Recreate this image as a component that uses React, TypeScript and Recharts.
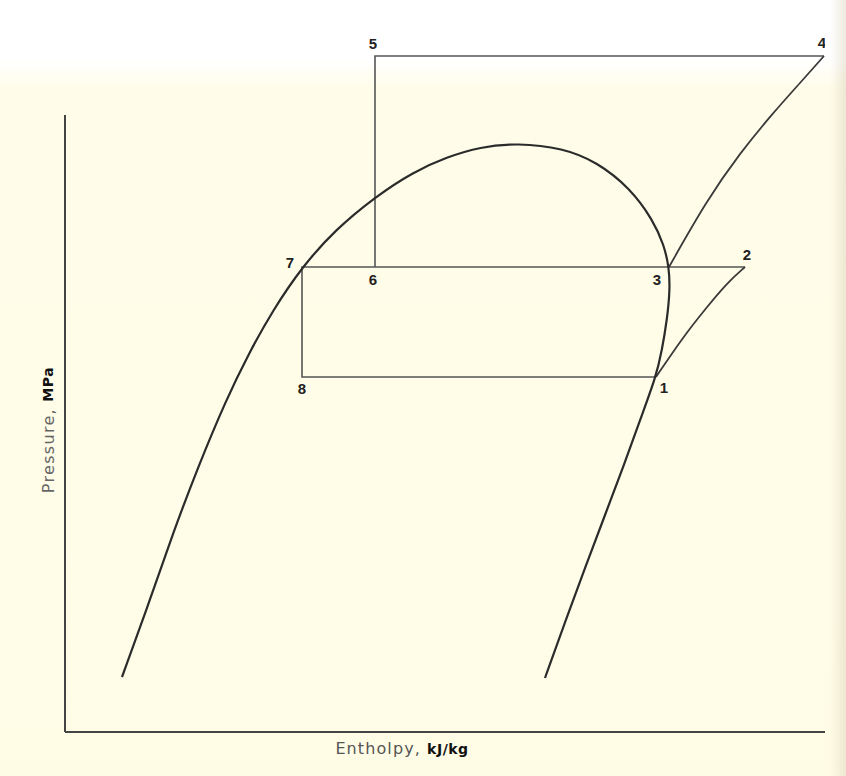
import {
  ComposedChart,
  Label,
  Line,
  ReferenceLine,
  Scatter,
  XAxis,
  YAxis,
} from "recharts";

// saturation dome, from the bottom of the liquid line over the top to the bottom of the vapour line
const dome = [
  { h: 28.5, p: 27.5 },
  { h: 42.5, p: 66 },
  { h: 54, p: 99.5 },
  { h: 66.5, p: 132.5 },
  { h: 80.5, p: 166 },
  { h: 92, p: 189.5 },
  { h: 104, p: 211 },
  { h: 118.5, p: 232.5 },
  { h: 135, p: 251 },
  { h: 155, p: 267.5 },
  { h: 174, p: 280 },
  { h: 191, p: 287.5 },
  { h: 207.5, p: 292.5 },
  { h: 226, p: 294.5 },
  { h: 249, p: 292 },
  { h: 266, p: 285 },
  { h: 282.5, p: 272 },
  { h: 294, p: 256 },
  { h: 299.5, p: 243.5 },
  { h: 302, p: 232.5 },
  { h: 302.5, p: 221 },
  { h: 301, p: 206 },
  { h: 298.5, p: 191 },
  { h: 295.5, p: 177.5 },
  { h: 287.5, p: 156 },
  { h: 279.5, p: 133.5 },
  { h: 270, p: 108.5 },
  { h: 260, p: 82 },
  { h: 250, p: 55 },
  { h: 240, p: 27 },
];

// compression 1 -> 2
const compressionLow = [
  { h: 295.5, p: 177.5 },
  { h: 309, p: 197.5 },
  { h: 321, p: 212.5 },
  { h: 331, p: 224.5 },
  { h: 340, p: 232.5 },
];

// compression 3 -> 4
const compressionHigh = [
  { h: 302, p: 232.5 },
  { h: 321, p: 266 },
  { h: 337.5, p: 289.5 },
  { h: 354, p: 309.5 },
  { h: 367.5, p: 324.5 },
  { h: 379.5, p: 338 },
];

// 4 -> 5 -> 6
const upperCycle = [
  { h: 379.5, p: 338 },
  { h: 155, p: 338 },
  { h: 155, p: 232.5 },
];

// 2 -> 7 -> 8 -> 1
const lowerCycle = [
  { h: 340, p: 232.5 },
  { h: 118.5, p: 232.5 },
  { h: 118.5, p: 177.5 },
  { h: 295.5, p: 177.5 },
];

const statePoints = [
  { name: "1", h: 295.5, p: 177.5 },
  { name: "2", h: 340, p: 232.5 },
  { name: "3", h: 302, p: 232.5 },
  { name: "4", h: 379.5, p: 338 },
  { name: "5", h: 155, p: 338 },
  { name: "6", h: 155, p: 232.5 },
  { name: "7", h: 118.5, p: 232.5 },
  { name: "8", h: 118.5, p: 177.5 },
];

const hDomain = [0, 380];
const pDomain = [0, 356];
const pAxisTop = 308.5;

const labelOffsets: Record<string, [number, number]> = {
  "1": [8, 10],
  "2": [2, -13],
  "3": [-12, 12],
  "4": [-2, -14],
  "5": [-2, -13],
  "6": [-2, 12],
  "7": [-12, -5],
  "8": [0, 11],
};

function StateLabel(props: any) {
  const { cx, cy, payload } = props;
  const [dx, dy] = labelOffsets[payload.name] ?? [0, 0];
  return (
    <text
      x={cx + dx}
      y={cy + dy}
      textAnchor="middle"
      dominantBaseline="central"
      fontFamily="'Liberation Sans', Arial, sans-serif"
      fontWeight="bold"
      fontSize={15}
      fill="#222"
    >
      {payload.name}
    </text>
  );
}

function XTitle(props: any) {
  const { x, y, width } = props.viewBox;
  return (
    <text
      x={x + width / 2 - 43}
      y={y + 22}
      textAnchor="middle"
      fontFamily="'DejaVu Sans', sans-serif"
      fontSize={16}
      letterSpacing={1.1}
    >
      <tspan fill="#555">Entholpy, </tspan>
      <tspan fill="#111" fontWeight="bold" fontSize={14} letterSpacing={0.5}>
        kJ/kg
      </tspan>
    </text>
  );
}

function YTitle(props: any) {
  const { x, y } = props.viewBox;
  const tx = x + 48;
  const ty = y + 410;
  return (
    <text
      x={tx}
      y={ty}
      textAnchor="middle"
      dominantBaseline="central"
      transform={`rotate(-90 ${tx} ${ty})`}
      fontFamily="'DejaVu Sans', sans-serif"
      fontSize={16}
      letterSpacing={1.3}
    >
      <tspan fill="#666">Pressure, </tspan>
      <tspan fill="#111" fontWeight="bold" fontSize={14} letterSpacing={0.5}>
        MPa
      </tspan>
    </text>
  );
}

export default function App() {
  return (
    <div
      style={{
        position: "absolute",
        left: 0,
        top: 0,
        width: 846,
        height: 776,
        background:
          "linear-gradient(to right, rgba(0,0,0,0) 830px, rgba(210,200,175,0.4) 846px), linear-gradient(to bottom, #ffffff 0px, #ffffff 60px, #fffde9 88px, #fffce6 100%)",
      }}
    >
      <ComposedChart
        width={846}
        height={776}
        margin={{ top: 20, right: 21, bottom: 0, left: 0 }}
      >
        <XAxis
          dataKey="h"
          type="number"
          domain={hDomain}
          allowDataOverflow
          height={44}
          tick={false}
          tickLine={false}
          axisLine={{ stroke: "#444", strokeWidth: 2 }}
        >
          <Label content={<XTitle />} />
        </XAxis>
        <YAxis
          dataKey="p"
          type="number"
          domain={pDomain}
          allowDataOverflow
          width={65}
          tick={false}
          tickLine={false}
          axisLine={false}
        >
          <Label content={<YTitle />} />
        </YAxis>
        <ReferenceLine
          segment={[
            { x: 0, y: 0 },
            { x: 0, y: pAxisTop },
          ]}
          stroke="#444"
          strokeWidth={2}
        />
        <Line
          data={upperCycle}
          dataKey="p"
          type="linear"
          stroke="#555"
          strokeWidth={1.6}
          dot={false}
          activeDot={false}
          isAnimationActive={false}
        />
        <Line
          data={lowerCycle}
          dataKey="p"
          type="linear"
          stroke="#555"
          strokeWidth={1.6}
          dot={false}
          activeDot={false}
          isAnimationActive={false}
        />
        <Line
          data={compressionLow}
          dataKey="p"
          type="basis"
          stroke="#3a3a3a"
          strokeWidth={1.8}
          dot={false}
          activeDot={false}
          isAnimationActive={false}
        />
        <Line
          data={compressionHigh}
          dataKey="p"
          type="basis"
          stroke="#3a3a3a"
          strokeWidth={1.8}
          dot={false}
          activeDot={false}
          isAnimationActive={false}
        />
        <Line
          data={dome}
          dataKey="p"
          type="basis"
          stroke="#2b2b2b"
          strokeWidth={2.2}
          dot={false}
          activeDot={false}
          isAnimationActive={false}
        />
        <Scatter
          data={statePoints}
          dataKey="p"
          shape={<StateLabel />}
          isAnimationActive={false}
        />
      </ComposedChart>
    </div>
  );
}
